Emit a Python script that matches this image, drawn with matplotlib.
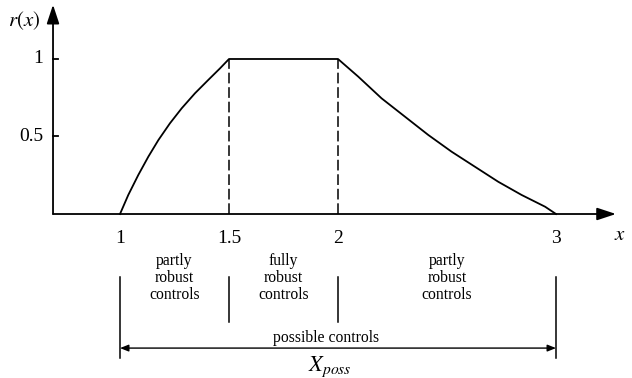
import matplotlib
matplotlib.use('Agg')
import matplotlib.pyplot as plt

plt.rcParams['font.family'] = ['Liberation Serif', 'DejaVu Serif']
plt.rcParams['mathtext.fontset'] = 'stix'

# curve r(x)
x_vals = [1.0, 1.038, 1.084, 1.130, 1.176, 1.229, 1.283, 1.344, 1.405, 1.459, 1.5,
          2.0, 2.093, 2.200, 2.307, 2.414, 2.521, 2.628, 2.735, 2.842, 2.950, 3.0]
r_vals = [0.0, 0.123, 0.252, 0.370, 0.477, 0.585, 0.682, 0.779, 0.865, 0.940, 1.0,
          1.0, 0.886, 0.746, 0.628, 0.510, 0.402, 0.305, 0.208, 0.123, 0.047, 0.0]

x_ticks = [1, 1.5, 2, 3]
x_tick_labels = ['1', '1.5', '2', '3']
y_ticks = [0.5, 1]
y_tick_labels = ['0.5', '1']
core = [1.5, 2]
bounds = [1, 1.5, 2, 3]
zone_labels = ['partly\nrobust\ncontrols', 'fully\nrobust\ncontrols', 'partly\nrobust\ncontrols']

fig = plt.figure(figsize=(6.32, 3.78), dpi=100)
ax = fig.add_axes([0, 0, 1, 1])
ax.set_xlim(0.4495, 3.3486)
ax.set_ylim(-1.058, 1.3806)
ax.axis('off')

x0 = 0.6927  # where the vertical axis sits
x_end = 3.275
y_end = 1.35

# axes with arrows
ax.annotate('', xy=(x_end, 0), xytext=(x0, 0),
            arrowprops=dict(arrowstyle='-|>,head_length=1.15,head_width=0.38',
                            lw=1.3, color='k', shrinkA=0, shrinkB=0, mutation_scale=10))
ax.annotate('', xy=(x0, y_end), xytext=(x0, 0),
            arrowprops=dict(arrowstyle='-|>,head_length=1.15,head_width=0.38',
                            lw=1.3, color='k', shrinkA=0, shrinkB=0, mutation_scale=10))

# y ticks
for yt, lab in zip(y_ticks, y_tick_labels):
    ax.plot([x0, x0 + 0.023], [yt, yt], color='k', lw=1.3)
    ax.text(x0 - 0.045, yt, lab, ha='right', va='center', fontsize=14)

for xt, lab in zip(x_ticks, x_tick_labels):
    ax.text(xt, -0.155, lab, ha='center', va='center', fontsize=14)

ax.text(3.294, -0.14, '$x$', ha='center', va='center', fontsize=15)
ax.text(0.56, 1.245, '$r(x)$', ha='center', va='center', fontsize=15)

# membership curve
ax.plot(x_vals, r_vals, color='k', lw=1.3)

# dashed lines at the core
for xc in core:
    ax.plot([xc, xc], [0, 1], color='k', lw=1.1, dashes=(7, 2.5))

# zone brackets
for xb in bounds:
    bottom = -0.929 if xb in (bounds[0], bounds[-1]) else -0.697
    ax.plot([xb, xb], [-0.406, bottom], color='k', lw=1.1)

for i, lab in enumerate(zone_labels):
    xm = (bounds[i] + bounds[i + 1]) / 2
    ax.text(xm, -0.413, lab, ha='center', va='center', fontsize=11.3, linespacing=1.05)

ax.annotate('', xy=(bounds[-1], -0.865), xytext=(bounds[0], -0.865),
            arrowprops=dict(arrowstyle='<|-|>,head_length=0.5,head_width=0.2',
                            lw=1.0, color='k', shrinkA=0, shrinkB=0, mutation_scale=10))
ax.text(1.945, -0.80, 'possible controls', ha='center', va='center', fontsize=11.3)
ax.text(1.963, -0.985, '$X_{poss}$', ha='center', va='center', fontsize=16)

fig.savefig('out.png', dpi=100)
